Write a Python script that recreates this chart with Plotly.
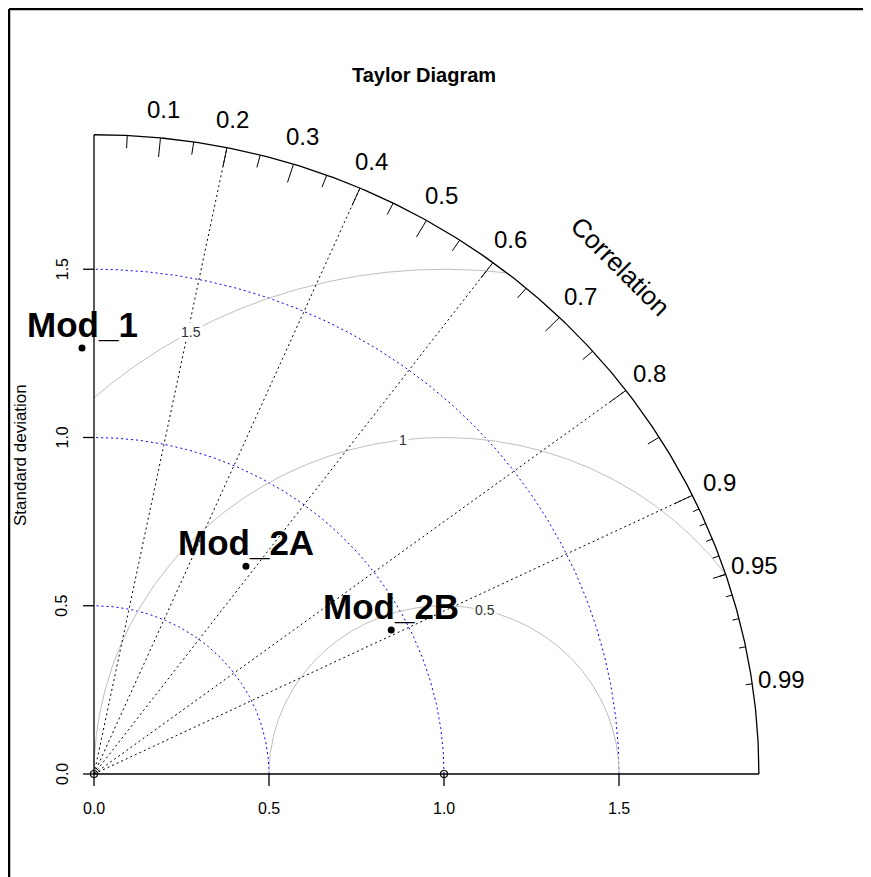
import numpy as np
import plotly.graph_objects as go

# ---------------- data ----------------
models = ["Mod_1", "Mod_2A", "Mod_2B"]
model_sd = [1.2665, 0.755, 0.951]
model_cor = [-0.027, 0.575, 0.893]
ref_sd = 1.0
sd_arc_levels = [0.5, 1.0, 1.5]
gamma_levels = [0.5, 1.0, 1.5]
gamma_labels = ["0.5", "1", "1.5"]
gamma_label_angles_deg = [76.5, 96.7, 118.8]
cor_label_values = [0.1, 0.2, 0.3, 0.4, 0.5, 0.6, 0.7, 0.8, 0.9, 0.95, 0.99]
cor_label_texts = ["0.1", "0.2", "0.3", "0.4", "0.5", "0.6", "0.7", "0.8", "0.9", "0.95", "0.99"]
radial_cors = [0.2, 0.4, 0.6, 0.8, 0.9]
big_ticks = [0.1, 0.2, 0.3, 0.4, 0.5, 0.6, 0.7, 0.8, 0.9]
med_ticks = [0.05, 0.15, 0.25, 0.35, 0.45, 0.55, 0.65, 0.75, 0.85, 0.95]
small_ticks = [0.91, 0.92, 0.93, 0.94, 0.95, 0.96, 0.97, 0.98, 0.99]
sd_ticks = [0.0, 0.5, 1.0, 1.5]
sd_tick_labels = ["0.0", "0.5", "1.0", "1.5"]
title = "Taylor Diagram"
ylab = "Standard deviation"
cor_title = "Correlation"

maxsd = 1.5 * max(max(model_sd), ref_sd)

# ---------------- geometry (pixel mapping) ----------------
PAGE = 8                      # default body margin of the html page
W, H = 871 - PAGE, 877 - PAGE
OX, OY = 94.0 - PAGE, 774.0 - PAGE
PXX, PXY = 350.0, 336.5
xr = [-OX / PXX, (W - OX) / PXX]
yr = [(OY - H) / PXY, OY / PXY]
FONT = "Liberation Sans, Arial, sans-serif"


def px_x(p):
    return (p - PAGE - OX) / PXX


def px_y(p):
    return (OY - (p - PAGE)) / PXY


fig = go.Figure()


def add_line(xs, ys, color, width, dash="solid"):
    fig.add_trace(go.Scatter(x=xs, y=ys, mode="lines", hoverinfo="skip",
                             line=dict(color=color, width=width, dash=dash),
                             showlegend=False))


# blue dotted sd arcs
t = np.linspace(0, np.pi / 2, 300)
for r in sd_arc_levels:
    add_line(r * np.cos(t), r * np.sin(t), "blue", 1, "2px,3px")

# grey gamma (centered RMS) arcs
tg = np.linspace(0, np.pi, 800)
for g in gamma_levels:
    xs = ref_sd + g * np.cos(tg)
    ys = g * np.sin(tg)
    ok = (xs >= 0) & (xs ** 2 + ys ** 2 <= maxsd ** 2)
    xs = np.where(ok, xs, np.nan)
    ys = np.where(ok, ys, np.nan)
    add_line(xs, ys, "#bebebe", 1)

# radial dotted lines
rx, ry = [], []
for c in radial_cors:
    a = np.arccos(c)
    rx += [0, maxsd * np.cos(a), None]
    ry += [0, maxsd * np.sin(a), None]
add_line(rx, ry, "black", 1, "2px,3px")

# outer arc + axes lines
add_line(maxsd * np.cos(t), maxsd * np.sin(t), "black", 1.3)
add_line([0, 0], [0, maxsd], "black", 1.3)
add_line([0, maxsd], [0, 0], "black", 1.3)

# correlation ticks
tx, ty = [], []
for vals, frac in ((big_ticks, 0.97), (med_ticks, 0.98), (small_ticks, 0.99)):
    for c in vals:
        a = np.arccos(c)
        tx += [maxsd * np.cos(a), frac * maxsd * np.cos(a), None]
        ty += [maxsd * np.sin(a), frac * maxsd * np.sin(a), None]
add_line(tx, ty, "black", 1)

# axis ticks
ax_x, ax_y = [], []
for v in sd_ticks:
    ax_x += [v, v, None]
    ax_y += [0, -12 / PXY, None]
    ax_x += [0, -11 / PXX, None]
    ax_y += [v, v, None]
add_line(ax_x, ax_y, "black", 1.3)

# gamma labels
for g, lab, ang in zip(gamma_levels, gamma_labels, gamma_label_angles_deg):
    a = np.radians(ang)
    fig.add_annotation(x=ref_sd + g * np.cos(a), y=g * np.sin(a), text=lab,
                       showarrow=False, bgcolor="white", borderpad=1,
                       font=dict(family=FONT, size=14, color="#303030"))

# reference point and origin marker
fig.add_trace(go.Scatter(x=[0, ref_sd], y=[0, 0], mode="markers", hoverinfo="skip",
                         marker=dict(symbol="circle-open", size=7, color="black",
                                     line=dict(width=1.2)), showlegend=False))

# model points
mx = [s * c for s, c in zip(model_sd, model_cor)]
my = [s * np.sqrt(1 - c ** 2) for s, c in zip(model_sd, model_cor)]
fig.add_trace(go.Scatter(x=mx, y=my, mode="markers", hoverinfo="skip",
                         marker=dict(symbol="circle", size=7, color="black"),
                         showlegend=False))
for name, x, y in zip(models, mx, my):
    fig.add_annotation(x=x, y=y, text="<b>" + name + "</b>", showarrow=False,
                       yanchor="bottom", xanchor="center", yshift=2,
                       font=dict(family=FONT, size=35, color="black"))

# correlation labels
for c, lab in zip(cor_label_values, cor_label_texts):
    a = np.arccos(c)
    r = maxsd * 1.045
    fig.add_annotation(x=r * np.cos(a), y=r * np.sin(a), text=lab, showarrow=False,
                       font=dict(family=FONT, size=24, color="black"))
fig.add_annotation(x=px_x(620), y=px_y(266),
                   text=cor_title, textangle=45, showarrow=False,
                   font=dict(family=FONT, size=26, color="black"))

# sd axis labels
for v, lab in zip(sd_ticks, sd_tick_labels):
    fig.add_annotation(x=v, y=px_y(808), text=lab, showarrow=False,
                       font=dict(family=FONT, size=16, color="black"))
    fig.add_annotation(x=px_x(62), y=v, text=lab, showarrow=False, textangle=-90,
                       font=dict(family=FONT, size=16, color="black"))
fig.add_annotation(x=px_x(20), y=px_y(455), text=ylab, showarrow=False,
                   textangle=-90, font=dict(family=FONT, size=17, color="black"))

# title
fig.add_annotation(x=px_x(424), y=px_y(75), text="<b>" + title + "</b>",
                   showarrow=False, font=dict(family=FONT, size=20, color="black"))

# frame
fig.add_shape(type="line", xref="paper", yref="paper", x0=(9 - PAGE) / W, x1=1.0,
              y0=1 - (9 - PAGE) / H, y1=1 - (9 - PAGE) / H,
              line=dict(color="black", width=2.5))
fig.add_shape(type="line", xref="paper", yref="paper", x0=(9 - PAGE) / W, x1=(9 - PAGE) / W,
              y0=1 - (9 - PAGE) / H, y1=0, line=dict(color="black", width=2.5))

fig.update_layout(
    width=W, height=H, autosize=False,
    margin=dict(l=0, r=0, t=0, b=0),
    plot_bgcolor="white", paper_bgcolor="white",
    xaxis=dict(range=xr, visible=False, fixedrange=True),
    yaxis=dict(range=yr, visible=False, fixedrange=True),
    showlegend=False,
)
fig.write_html("out.html")
